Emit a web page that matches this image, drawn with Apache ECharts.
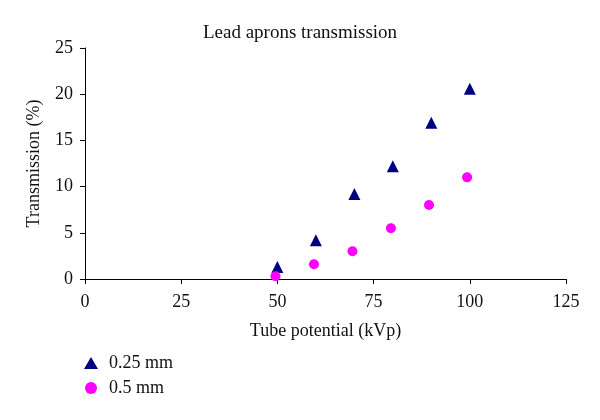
<!DOCTYPE html>
<html><head><meta charset="utf-8">
<script src="https://cdn.jsdelivr.net/npm/echarts@6/dist/echarts.min.js"></script>
<style>html,body{margin:0;padding:0;background:#fff}#c{width:600px;height:420px}</style>
</head><body><div id="c"></div>
<script>
const seriesNames = ['0.25 mm', '0.5 mm'];
const kvpThin = [50, 60, 70, 80, 90, 100];
const transThin = [1.3, 4.2, 9.2, 12.2, 16.9, 20.6];
const kvpThick = [49.5, 59.5, 69.5, 79.5, 89.4, 99.3];
const transThick = [0.3, 1.6, 3.0, 5.5, 8.0, 11.0];

const font = 'Liberation Serif';
const chart = echarts.init(document.getElementById('c'));
chart.setOption({
  backgroundColor: '#fff',
  animation: false,
  title: { text: 'Lead aprons transmission', left: 'center', top: 19,
    textStyle: { fontFamily: font, fontSize: 19, fontWeight: 'normal', color: '#111' } },
  legend: {
    orient: 'vertical', left: 79, top: 349, itemGap: 7, itemWidth: 14, itemHeight: 12,
    textStyle: { fontFamily: font, fontSize: 18, color: '#111', padding: [0, 0, 0, 6] },
    data: [{ name: seriesNames[0], icon: 'triangle' }, { name: seriesNames[1], icon: 'circle' }]
  },
  grid: { left: 85, right: 34, top: 48, bottom: 141 },
  xAxis: {
    type: 'value', min: 0, max: 125, interval: 25,
    name: 'Tube potential (kVp)', nameLocation: 'middle', nameGap: 43,
    nameTextStyle: { fontFamily: font, fontSize: 18, color: '#111' },
    axisLine: { lineStyle: { color: '#000', width: 1 } },
    axisTick: { show: true, length: 5, lineStyle: { color: '#000' } },
    axisLabel: { fontFamily: font, fontSize: 18, color: '#111', margin: 14 },
    splitLine: { show: false }
  },
  yAxis: {
    type: 'value', min: 0, max: 25, interval: 5,
    name: 'Transmission (%)', nameLocation: 'middle', nameGap: 42,
    nameTextStyle: { fontFamily: font, fontSize: 18, color: '#111' },
    axisLine: { show: true, lineStyle: { color: '#000', width: 1 } },
    axisTick: { show: true, length: 5, lineStyle: { color: '#000' } },
    axisLabel: { fontFamily: font, fontSize: 18, color: '#111', margin: 12 },
    splitLine: { show: false }
  },
  series: [
    { name: seriesNames[0], type: 'scatter', symbol: 'triangle', symbolSize: 12,
      itemStyle: { color: '#000080', opacity: 1 }, data: kvpThin.map((x, i) => [x, transThin[i]]) },
    { name: seriesNames[1], type: 'scatter', symbol: 'circle', symbolSize: 10,
      itemStyle: { color: '#ff00ff', opacity: 1 }, data: kvpThick.map((x, i) => [x, transThick[i]]) }
  ]
});
</script></body></html>
